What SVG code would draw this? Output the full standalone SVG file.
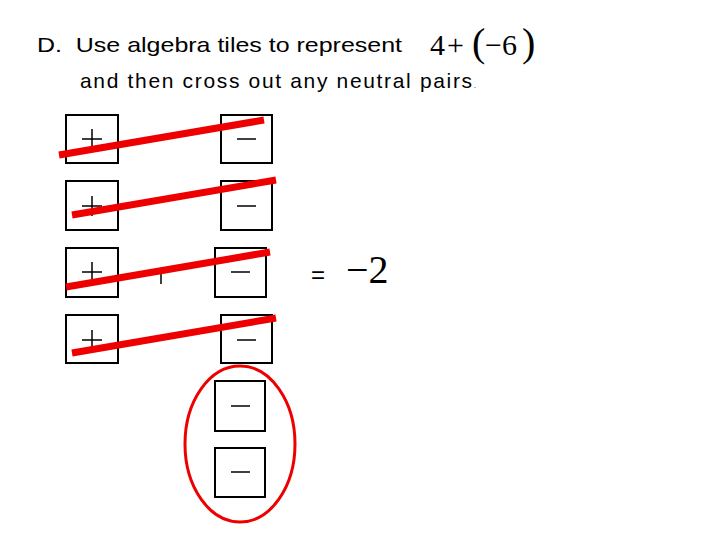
<svg xmlns="http://www.w3.org/2000/svg" width="720" height="540" viewBox="0 0 720 540">
<style>
.t{fill:#fff;stroke:#000;stroke-width:2}
.s{stroke:#000;stroke-width:1.5}
.x{stroke:#e00;stroke-width:7;stroke-linecap:butt}
text{font-family:"Liberation Sans",Arial,sans-serif;fill:#000}
.m{font-family:"Liberation Serif","Times New Roman",serif}
</style>
<rect width="720" height="540" fill="#fff"/>
<text x="37" y="52" font-size="21" textLength="365" lengthAdjust="spacingAndGlyphs" xml:space="preserve">D.  Use algebra tiles to represent</text>
<text x="80" y="88" font-size="21" textLength="396" lengthAdjust="spacing">and then cross out any neutral pairs<tspan font-size="8">.</tspan></text>
<text class="m" x="430" y="55" font-size="30">4</text>
<text class="m" x="447" y="55" font-size="30">+</text>
<text class="m" x="472" y="56" font-size="40">(</text>
<text class="m" x="485" y="55" font-size="30">−6</text>
<text class="m" x="522" y="56" font-size="40">)</text>
<g id="p1"><rect class="t" x="66" y="115" width="52" height="48"/><path class="s" d="M82 139h20M92 129v20"/></g>
<g id="p2"><rect class="t" x="66" y="181" width="52" height="49"/><path class="s" d="M82 206h20M92 196v20"/></g>
<g id="p3"><rect class="t" x="66" y="248" width="52" height="49"/><path class="s" d="M82 272h20M92 262v20"/></g>
<g id="p4"><rect class="t" x="66" y="315" width="52" height="48"/><path class="s" d="M82 340h20M92 330v20"/></g>
<g id="n1"><rect class="t" x="221" y="115" width="51" height="48"/><path class="s" d="M237 139h19"/></g>
<g id="n2"><rect class="t" x="221" y="181" width="51" height="49"/><path class="s" d="M237 206h19"/></g>
<g id="n3"><rect class="t" x="215" y="248" width="51" height="49"/><path class="s" d="M231 272h19" stroke-width="2"/></g>
<g id="n4"><rect class="t" x="221" y="315" width="51" height="48"/><path class="s" d="M237 340h19"/></g>
<g id="n5"><rect class="t" x="215" y="381" width="50" height="50"/><path class="s" d="M231 406h19" stroke-width="2"/></g>
<g id="n6"><rect class="t" x="215" y="448" width="50" height="49"/><path class="s" d="M231 472h19"/></g>
<path class="s" d="M161 268v16" stroke-width="1"/>
<g id="connectors">
<line class="x" x1="59" y1="155" x2="264" y2="120"/>
<line class="x" x1="72" y1="215" x2="276" y2="180"/>
<line class="x" x1="66" y1="287" x2="270" y2="252"/>
<line class="x" x1="72" y1="353" x2="276" y2="318"/>
<ellipse cx="240" cy="444" rx="55" ry="78" fill="none" stroke="#e00" stroke-width="3"/>
</g>
<text x="311" y="283" font-size="24">=</text>
<text class="m" x="346" y="283" font-size="40">−2</text>
</svg>
